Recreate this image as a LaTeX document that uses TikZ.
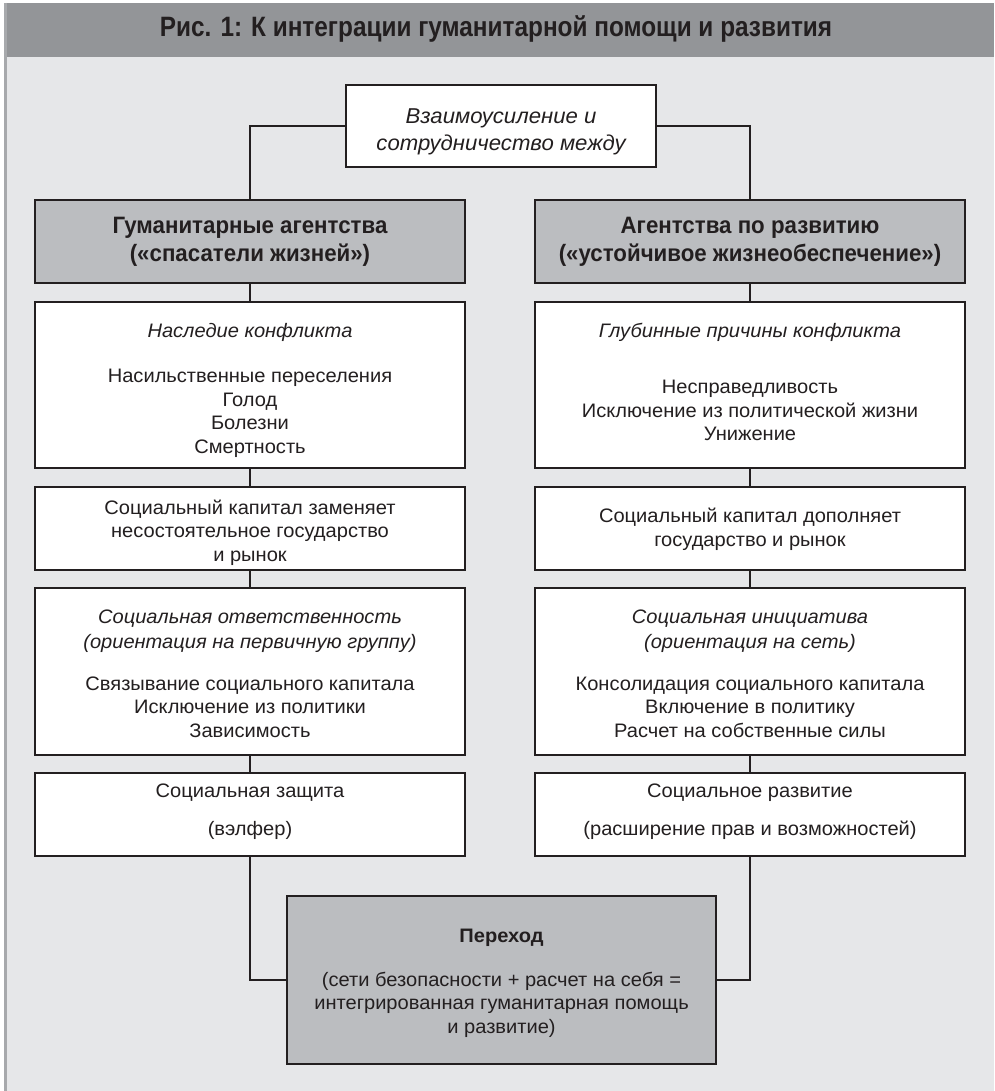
\documentclass[tikz,border=0pt]{standalone}
\usepackage{fontspec}
\setmainfont{Liberation Sans}[FakeStretch=1.03]
\newfontfamily\headfont{Liberation Sans}[FakeStretch=0.94]
\newfontfamily\titlefont{Liberation Sans}[FakeStretch=0.87]
\definecolor{bgc}{HTML}{E6E7E9}
\definecolor{titlec}{HTML}{939598}
\definecolor{greyc}{HTML}{BBBDC0}
\definecolor{inkc}{HTML}{231F20}
\definecolor{edgec}{HTML}{A7A9AC}
\newcommand{\topstrut}[1]{\rule{0pt}{#1}}
\newcommand{\botstrut}[1]{\rule[-#1]{0pt}{0pt}}
\begin{document}
\begin{tikzpicture}[x=1pt,y=-1pt,
  box/.style={draw=inkc, line width=1.6pt, fill=white, inner sep=0pt, align=center,
    text=inkc, font=\fontsize{19.5}{23.5}\selectfont},
  headbox/.style={box, fill=greyc, font=\headfont\bfseries\fontsize{23.7}{28}\selectfont},
  link/.style={draw=inkc, line width=1.5pt}]
\useasboundingbox (0,0) rectangle (994,1091);
\fill[white] (0,0) rectangle (994,1091);
\fill[bgc] (5,3) rectangle (994,1091);
\fill[titlec] (5,3) rectangle (994,57);
\draw[edgec, line width=2.5pt] (5.25,3) -- (5.25,1091);
\node[anchor=base, text=inkc, font=\titlefont\bfseries\fontsize{28}{32}\selectfont] (title) at (496,37) {Рис. 1: К интеграции гуманитарной помощи и развития};

\node[box, minimum width=310pt, minimum height=82pt, font=\itshape\fontsize{21.5}{27}\selectfont] (top) at (501,126)
  {\topstrut{25.5pt}Взаимоусиление и\\сотрудничество между};

\node[headbox, minimum width=430pt, minimum height=83pt] (lh) at (250,241.5)
  {Гуманитарные агентства\\(«спасатели жизней»)};
\node[headbox, minimum width=430pt, minimum height=83pt] (rh) at (750,241.5)
  {Агентства по развитию\\(«устойчивое жизнеобеспечение»)};

\node[box, minimum width=430pt, minimum height=166pt] (l1) at (250,385)
  {\topstrut{24.5pt}\textit{Наследие конфликта}\\[22pt]Насильственные переселения\\Голод\\Болезни\\Смертность};
\node[box, minimum width=430pt, minimum height=166pt] (r1) at (750,385)
  {\textit{Глубинные причины конфликта}\\[33pt]Несправедливость\\Исключение из политической жизни\\Унижение\botstrut{6pt}};

\node[box, minimum width=430pt, minimum height=83pt] (l2) at (250,528.5)
  {\topstrut{22.5pt}Социальный капитал заменяет\\несостоятельное государство\\и рынок};
\node[box, minimum width=430pt, minimum height=83pt] (r2) at (750,528.5)
  {\topstrut{16.5pt}Социальный капитал дополняет\\государство и рынок};

\node[box, minimum width=430pt, minimum height=167pt] (l3) at (250,671.5)
  {\topstrut{18.5pt}\textit{Социальная ответственность}\\[1.5pt]\textit{(ориентация на первичную группу)}\\[18pt]Связывание социального капитала\\Исключение из политики\\Зависимость};
\node[box, minimum width=430pt, minimum height=167pt] (r3) at (750,671.5)
  {\topstrut{18.5pt}\textit{Социальная инициатива}\\[1.5pt]\textit{(ориентация на сеть)}\\[18pt]Консолидация социального капитала\\Включение в политику\\Расчет на собственные силы};

\node[box, minimum width=430pt, minimum height=83pt] (l4) at (250,814.5)
  {Социальная защита\\[14pt](вэлфер)\botstrut{10pt}};
\node[box, minimum width=430pt, minimum height=83pt] (r4) at (750,814.5)
  {Социальное развитие\\[14pt](расширение прав и возможностей)\botstrut{10pt}};

\node[box, fill=greyc, minimum width=429pt, minimum height=168pt] (tr) at (501.5,980)
  {\topstrut{20.5pt}\textbf{Переход}\\[20pt](сети безопасности + расчет на себя =\\интегрированная гуманитарная помощь\\и развитие)};

\draw[link] (top.west) -| (lh.north);
\draw[link] (top.east) -| (rh.north);
\draw[link] (lh.south) -- (l1.north);
\draw[link] (l1.south) -- (l2.north);
\draw[link] (l2.south) -- (l3.north);
\draw[link] (l3.south) -- (l4.north);
\draw[link] (rh.south) -- (r1.north);
\draw[link] (r1.south) -- (r2.north);
\draw[link] (r2.south) -- (r3.north);
\draw[link] (r3.south) -- (r4.north);
\draw[link] (l4.south) |- (tr.west);
\draw[link] (r4.south) |- (tr.east);
\end{tikzpicture}
\end{document}
